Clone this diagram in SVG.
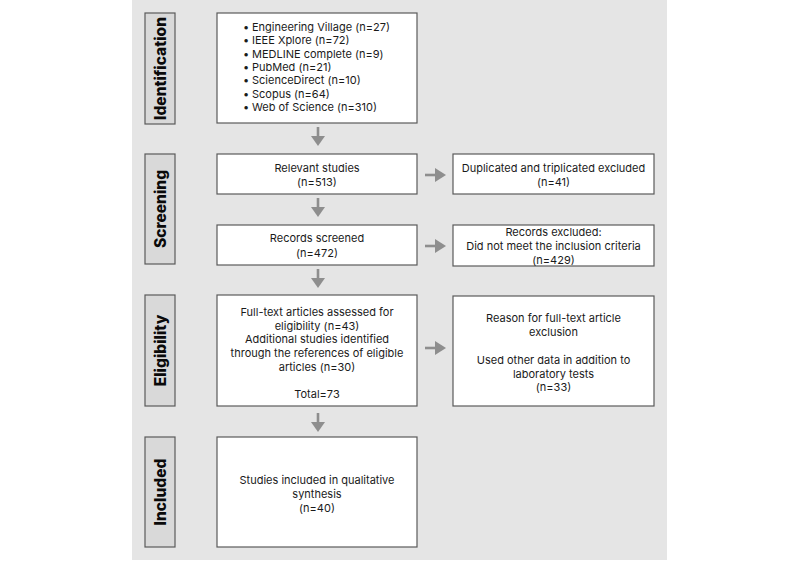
<svg xmlns="http://www.w3.org/2000/svg" width="800" height="561" viewBox="0 0 800 561">
<defs>
<style>
.panel{fill:#e5e5e5}
.lbl{fill:#d9d9d9;stroke:#5a5a5a;stroke-width:1.2}
.box{fill:#ffffff;stroke:#5a5a5a;stroke-width:1.2}
.lt{font-family:Inter,"Liberation Sans",sans-serif;font-weight:800;font-size:15.5px;fill:#0a0a0a;text-anchor:middle}
.t{font-family:Inter,"Liberation Sans",sans-serif;font-size:11px;fill:#1a1a1a;text-anchor:middle}
.tl{font-family:Inter,"Liberation Sans",sans-serif;font-size:11px;fill:#1a1a1a}
.arr{fill:#8e8e8e}
</style>
<g id="arrowDown"><rect x="-1.3" y="0" width="2.6" height="10" class="arr"/><polygon points="-7,9 7,9 0,19" class="arr"/></g>
<g id="arrowRight"><rect x="0" y="-1.3" width="11" height="2.6" class="arr"/><polygon points="10,-7 10,7 21,0" class="arr"/></g>
</defs>
<rect x="132" y="0" width="535" height="560" class="panel"/>

<g id="label-identification">
<rect x="145" y="13" width="30" height="111" class="lbl"/>
<text class="lt" transform="translate(165.5,68.5) rotate(-90)">Identification</text>
</g>
<g id="label-screening">
<rect x="145" y="154" width="30" height="110" class="lbl"/>
<text class="lt" transform="translate(165.5,209) rotate(-90)">Screening</text>
</g>
<g id="label-eligibility">
<rect x="145" y="295" width="30" height="111" class="lbl"/>
<text class="lt" transform="translate(165.5,350.5) rotate(-90)">Eligibility</text>
</g>
<g id="label-included">
<rect x="145" y="437" width="30" height="110" class="lbl"/>
<text class="lt" transform="translate(165.5,492) rotate(-90)">Included</text>
</g>

<g id="node-identification">
<rect x="217" y="13" width="200" height="110" class="box"/>
<text class="tl">
<tspan x="243" y="31">•</tspan><tspan x="252" y="31">Engineering Village (n=27)</tspan>
<tspan x="243" y="44.3">•</tspan><tspan x="252" y="44.3">IEEE Xplore (n=72)</tspan>
<tspan x="243" y="57.6">•</tspan><tspan x="252" y="57.6">MEDLINE complete (n=9)</tspan>
<tspan x="243" y="70.9">•</tspan><tspan x="252" y="70.9">PubMed (n=21)</tspan>
<tspan x="243" y="84.2">•</tspan><tspan x="252" y="84.2">ScienceDirect (n=10)</tspan>
<tspan x="243" y="97.5">•</tspan><tspan x="252" y="97.5">Scopus (n=64)</tspan>
<tspan x="243" y="110.8">•</tspan><tspan x="252" y="110.8">Web of Science (n=310)</tspan>
</text>
</g>

<g id="node-relevant">
<rect x="217" y="154" width="200" height="40" class="box"/>
<text class="t"><tspan x="317" y="172">Relevant studies</tspan><tspan x="317" y="186">(n=513)</tspan></text>
</g>
<g id="node-duplicated">
<rect x="453" y="154" width="201" height="40" class="box"/>
<text class="t"><tspan x="553.5" y="172">Duplicated and triplicated excluded</tspan><tspan x="553.5" y="186">(n=41)</tspan></text>
</g>
<g id="node-screened">
<rect x="217" y="225" width="200" height="40" class="box"/>
<text class="t"><tspan x="317" y="242">Records screened</tspan><tspan x="317" y="257">(n=472)</tspan></text>
</g>
<g id="node-excluded">
<rect x="453" y="225" width="201" height="41" class="box"/>
<text class="t"><tspan x="553.5" y="236">Records excluded:</tspan><tspan x="553.5" y="250">Did not meet the inclusion criteria</tspan><tspan x="553.5" y="263.5">(n=429)</tspan></text>
</g>
<g id="node-fulltext">
<rect x="217" y="295" width="200" height="111" class="box"/>
<text class="t"><tspan x="317" y="316">Full-text articles assessed for</tspan><tspan x="317" y="329.5">eligibility (n=43)</tspan><tspan x="317" y="343">Additional studies identified</tspan><tspan x="317" y="357">through the references of eligible</tspan><tspan x="317" y="370.5">articles (n=30)</tspan><tspan x="317" y="397.5">Total=73</tspan></text>
</g>
<g id="node-reason">
<rect x="453" y="296" width="201" height="110" class="box"/>
<text class="t"><tspan x="553.5" y="322">Reason for full-text article</tspan><tspan x="553.5" y="336">exclusion</tspan><tspan x="553.5" y="364">Used other data in addition to</tspan><tspan x="553.5" y="377.5">laboratory tests</tspan><tspan x="553.5" y="391">(n=33)</tspan></text>
</g>
<g id="node-included">
<rect x="217" y="437" width="200" height="110" class="box"/>
<text class="t"><tspan x="317" y="484">Studies included in qualitative</tspan><tspan x="317" y="497.5">synthesis</tspan><tspan x="317" y="512">(n=40)</tspan></text>
</g>

<g id="connectors">
<use href="#arrowDown" x="318" y="127"/>
<use href="#arrowDown" x="318" y="198"/>
<use href="#arrowDown" x="318" y="269"/>
<use href="#arrowDown" x="318" y="413"/>
<use href="#arrowRight" x="425" y="175"/>
<use href="#arrowRight" x="425" y="246"/>
<use href="#arrowRight" x="425" y="348"/>
</g>
</svg>
